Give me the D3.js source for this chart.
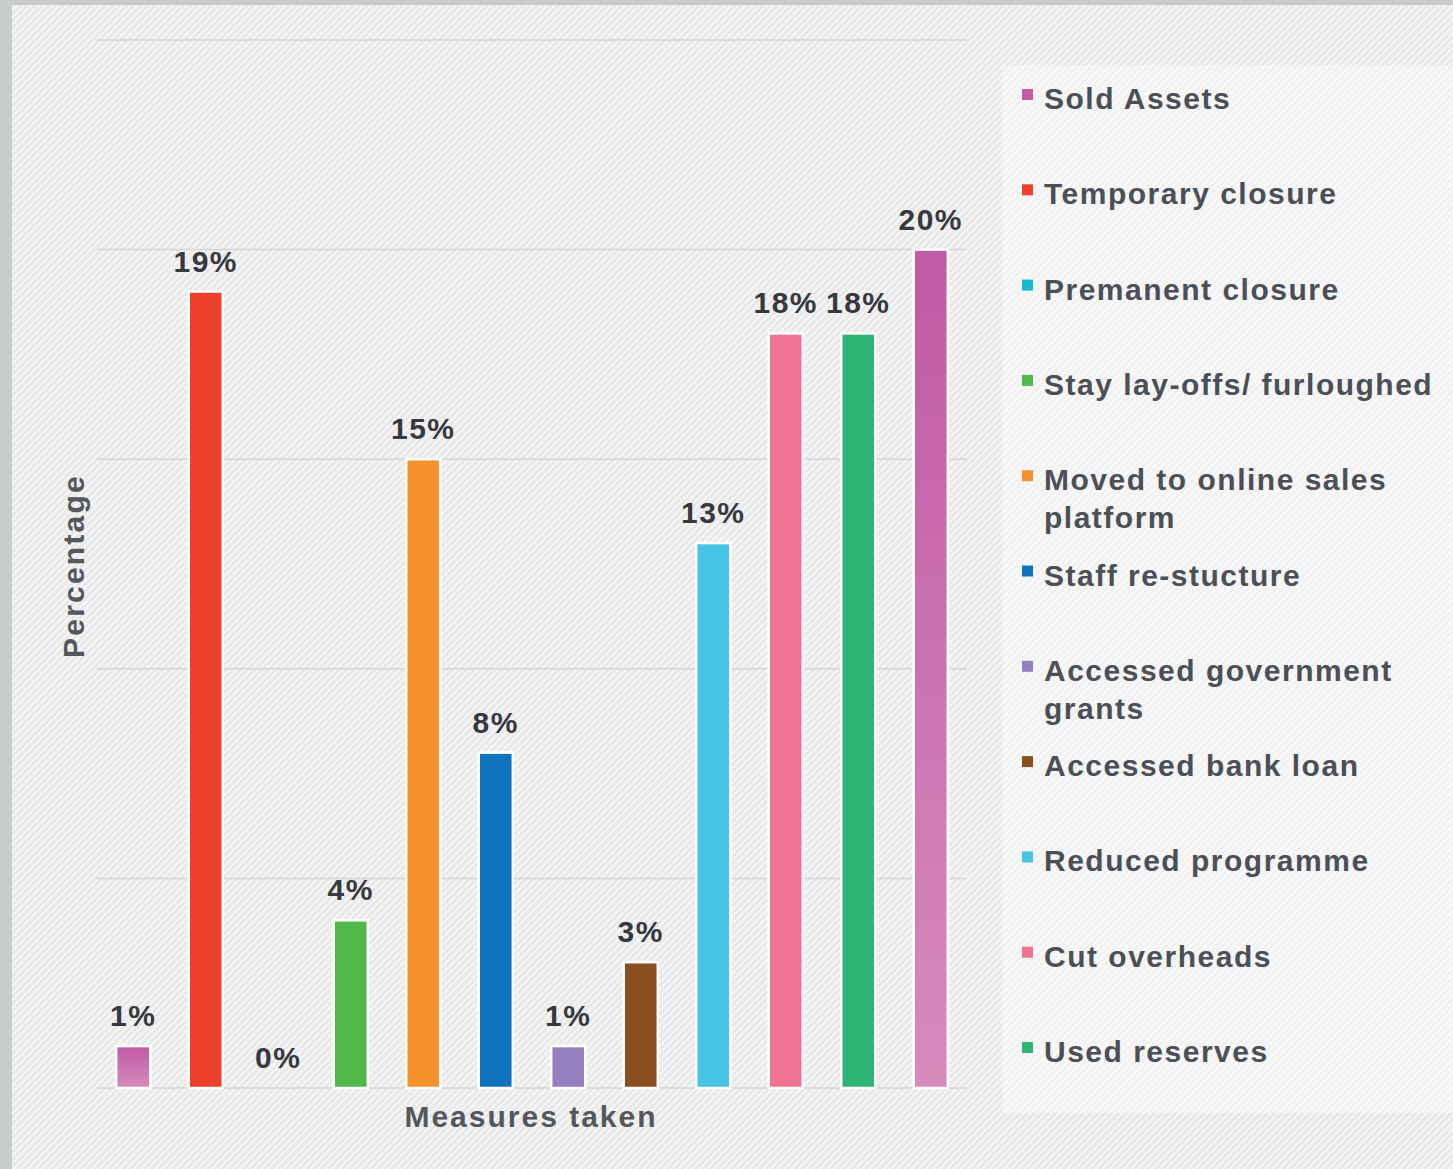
<!DOCTYPE html>
<html>
<head>
<meta charset="utf-8">
<script src="https://cdn.jsdelivr.net/npm/d3@7"></script>
<style>
  body { margin: 0; background: #c9cccc; }
  svg { display: block; }
</style>
</head>
<body>
<script>
var categories = [
  "Sold Assets", "Temporary closure", "Premanent closure", "Stay lay-offs/ furloughed",
  "Moved to online sales platform", "Staff re-stucture", "Accessed government grants",
  "Accessed bank loan", "Reduced programme", "Cut overheads", "Used reserves", ""
];
var values = [1, 19, 0, 4, 15, 8, 1, 3, 13, 18, 18, 20];
var colors = ["#c45aa6", "#ee412d", "#18b8cf", "#50b848", "#f6922e", "#0f74bb",
  "#9480bf", "#8a4f1e", "#45c4e3", "#f07491", "#2cb573", "#c45aa6"];
// legend lines (wrapped as in the original)
var legendLines = [
  ["Sold Assets"], ["Temporary closure"], ["Premanent closure"], ["Stay lay-offs/ furloughed"],
  ["Moved to online sales", "platform"], ["Staff re-stucture"], ["Accessed government", "grants"],
  ["Accessed bank loan"], ["Reduced programme"], ["Cut overheads"], ["Used reserves"]
];
var yTicks = [0, 5, 10, 15, 20, 25];

var W = 1453, H = 1169;
var font = "Liberation Sans, Arial, sans-serif";
var svg = d3.select("body").append("svg")
  .attr("width", W)
  .attr("height", H);

var defs = svg.append("defs");
var hatch = defs.append("pattern")
  .attr("id", "hatch")
  .attr("patternUnits", "userSpaceOnUse")
  .attr("width", 5).attr("height", 5)
  .attr("patternTransform", "rotate(45)");
hatch.append("rect").attr("width", 5).attr("height", 5).attr("fill", "#e8e8e8");
hatch.append("rect").attr("width", 2.2).attr("height", 5).attr("fill", "#f6f6f6");

var hatch2 = defs.append("pattern")
  .attr("id", "hatch2")
  .attr("patternUnits", "userSpaceOnUse")
  .attr("width", 5).attr("height", 5)
  .attr("patternTransform", "rotate(45)");
hatch2.append("rect").attr("width", 5).attr("height", 5).attr("fill", "#f1f1f1");
hatch2.append("rect").attr("width", 2.2).attr("height", 5).attr("fill", "#f9f9f9");

var grad = defs.append("linearGradient")
  .attr("id", "magenta")
  .attr("x1", 0).attr("y1", 0).attr("x2", 0).attr("y2", 1);
grad.append("stop").attr("offset", "0%").attr("stop-color", "#c05aa5");
grad.append("stop").attr("offset", "100%").attr("stop-color", "#d68bbb");

// frame
svg.append("rect").attr("x", 12).attr("y", 5).attr("width", W - 12).attr("height", H - 5)
  .attr("fill", "url(#hatch)");
svg.append("rect").attr("x", 1003).attr("y", 65).attr("width", 450).attr("height", 1048)
  .attr("fill", "url(#hatch2)");

var x = d3.scaleBand()
  .domain(d3.range(values.length))
  .range([97, 967])
  .paddingInner(0.53)
  .paddingOuter(0.265);

var y = d3.scaleLinear()
  .domain([0, 25])
  .range([1088, 40]);

// gridlines
svg.append("g")
  .selectAll("line")
  .data(yTicks)
  .enter()
  .append("line")
  .attr("x1", 97).attr("x2", 967)
  .attr("y1", function(d) { return y(d); })
  .attr("y2", function(d) { return y(d); })
  .attr("stroke", "#d6d6d6")
  .attr("stroke-width", 1.5);

// bars
svg.append("g")
  .selectAll("rect")
  .data(values)
  .enter()
  .append("rect")
  .attr("x", function(d, i) { return x(i); })
  .attr("y", function(d) { return y(d); })
  .attr("width", x.bandwidth())
  .attr("height", function(d) { return y(0) - y(d); })
  .attr("fill", function(d, i) { return (i === 0 || i === 11) ? "url(#magenta)" : colors[i]; })
  .attr("stroke", function(d) { return d > 0 ? "#ffffff" : "none"; })
  .attr("stroke-width", 2.5);

// value labels
svg.append("g")
  .selectAll("text")
  .data(values)
  .enter()
  .append("text")
  .attr("x", function(d, i) { return x(i) + x.bandwidth() / 2; })
  .attr("y", function(d) { return y(d) - 20; })
  .attr("text-anchor", "middle")
  .attr("font-family", font)
  .attr("font-weight", "bold")
  .attr("font-size", 30)
  .attr("letter-spacing", 1.5)
  .attr("fill", "#36393e")
  .text(function(d) { return d + "%"; });

// axis titles
svg.append("text")
  .attr("x", 531).attr("y", 1127)
  .attr("text-anchor", "middle")
  .attr("font-family", font)
  .attr("font-weight", "bold")
  .attr("font-size", 30)
  .attr("letter-spacing", 2)
  .attr("fill", "#54585d")
  .text("Measures taken");

svg.append("text")
  .attr("transform", "translate(84,566) rotate(-90)")
  .attr("text-anchor", "middle")
  .attr("font-family", font)
  .attr("font-weight", "bold")
  .attr("font-size", 30)
  .attr("letter-spacing", 2.2)
  .attr("fill", "#54585d")
  .text("Percentage");

// legend
var legend = svg.append("g")
  .selectAll("g")
  .data(legendLines)
  .enter()
  .append("g")
  .attr("transform", function(d, i) { return "translate(1022," + (98 + i * 95.3) + ")"; });

legend.append("rect")
  .attr("x", 0).attr("y", -9)
  .attr("width", 11).attr("height", 11)
  .attr("fill", function(d, i) { return colors[i]; });

legend.append("text")
  .attr("x", 22).attr("y", 11)
  .attr("font-family", font)
  .attr("font-weight", "bold")
  .attr("font-size", 30)
  .attr("letter-spacing", 1.5)
  .attr("fill", "#4b5056")
  .selectAll("tspan")
  .data(function(d) { return d; })
  .enter()
  .append("tspan")
  .attr("x", 22)
  .attr("dy", function(d, i) { return i === 0 ? 0 : 38; })
  .text(function(d) { return d; });
</script>
</body>
</html>
